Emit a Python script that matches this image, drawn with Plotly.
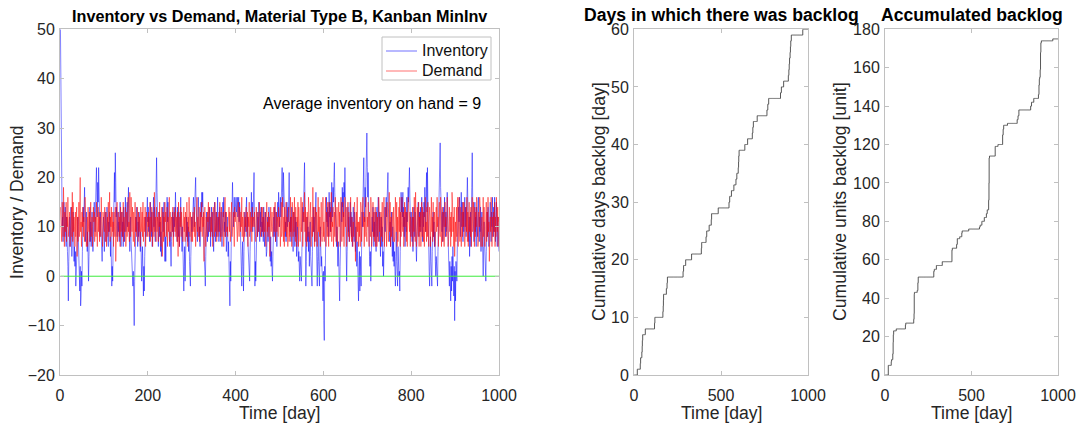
import numpy as np
import plotly.graph_objects as go

W, H = 1079, 426
FONT = "Liberation Sans, Arial, Helvetica, sans-serif"

# ---------------- data ----------------
inventory = [
    50,35,24,14,10,12,7,13,15,11,8,14,9,6,12,10,5,2,-5,3,
    8,12,6,10,14,9,4,7,11,13,8,3,6,2,5,-2,1,-1,4,9,
    12,7,3,1,-3,2,-6,-4,1,-2,5,9,14,11,16,18,12,7,10,13,
    8,5,9,2,-1,4,10,14,7,11,6,9,13,10,5,8,12,15,11,9,
    14,18,22,17,12,19,15,22,16,11,8,13,9,6,4,3,7,10,12,8,
    5,9,13,11,7,10,14,12,8,6,11,9,13,7,4,8,3,-2,2,-1,
    6,12,18,21,15,25,19,12,14,8,10,13,9,11,7,12,15,10,6,9,
    13,8,11,6,14,10,7,12,16,9,13,11,15,10,14,18,12,8,5,9,
    12,7,4,6,2,-2,1,-3,-10,-1,3,8,12,9,14,10,6,11,8,13,
    7,10,5,9,3,-1,2,6,1,-4,2,-3,4,9,12,8,13,10,16,11,
    14,9,12,7,10,15,11,8,13,6,9,12,16,10,14,11,7,13,18,24,
    17,10,12,6,9,13,8,11,5,9,4,7,11,14,9,12,15,10,3,8,
    3,9,13,16,11,15,12,8,10,6,9,4,2,7,11,13,9,12,8,14,
    10,12,17,13,9,11,7,14,10,8,13,6,9,12,16,11,8,5,10,7,
    3,-3,2,6,-1,4,9,12,8,11,7,10,5,9,3,1,-2,4,8,12,
    9,14,11,16,13,10,15,18,20,14,9,12,7,11,16,13,8,10,6,12,
    15,12,17,14,17,11,8,5,3,1,-2,4,9,13,10,7,12,8,11,14,
    9,12,6,10,14,11,8,13,9,5,11,15,12,7,10,13,8,11,16,9,
    12,7,10,14,8,11,13,9,6,10,15,12,16,9,11,8,13,10,5,9,
    12,8,4,7,2,1,-6,3,-1,6,11,16,19,14,10,13,16,12,15,14,
    16,13,15,16,12,14,16,11,15,13,9,6,3,-2,4,7,2,-3,5,10,
    13,9,14,11,16,8,12,7,4,2,1,-1,5,10,13,17,12,15,9,16,
    18,21,11,-2,3,-1,6,10,13,8,12,9,15,11,7,13,10,14,8,11,
    9,12,7,14,10,6,11,13,8,4,5,9,12,7,10,14,11,6,3,8,
    2,5,1,-1,4,9,12,8,14,10,7,13,11,6,9,15,12,17,14,10,
    13,16,12,18,15,22,17,14,21,16,10,13,8,11,7,12,15,10,14,11,
    17,21,13,9,12,7,10,14,8,11,5,9,13,10,6,12,8,11,4,7,
    10,6,3,5,2,-1,4,1,3,-1,5,9,14,11,17,19,23,16,6,-2,
    3,8,12,7,10,5,9,2,6,11,4,1,3,-2,5,10,14,9,12,7,
    11,15,17,8,2,-2,4,9,3,1,-2,5,10,6,2,4,1,0,-5,1,
    -9,-13,2,-1,6,12,16,11,14,10,13,8,17,12,15,9,14,11,19,16,
    12,18,15,20,23,17,13,9,11,6,10,4,2,7,1,3,-5,2,8,12,
    15,11,18,14,17,12,19,16,22,13,8,4,-1,5,10,14,9,12,7,11,
    15,10,13,8,12,6,9,14,11,7,13,9,5,10,6,2,7,3,1,-5,
    2,5,-3,4,1,-2,8,13,10,17,21,24,15,11,18,14,20,25,29,22,
    16,21,12,8,4,2,5,-1,3,7,12,9,14,10,6,11,8,13,9,5,
    10,14,8,12,16,11,7,13,9,4,8,12,6,10,2,5,0,7,11,14,
    9,13,16,12,18,15,21,14,10,12,7,11,6,9,13,8,4,10,3,7,
    2,5,1,-2,4,9,3,1,-2,6,2,0,1,-3,5,11,17,13,16,12,
    17,10,14,8,12,6,10,13,9,16,11,14,18,15,20,22,16,12,8,13,
    10,7,12,5,9,14,11,8,13,6,10,3,7,12,9,15,11,8,13,10,
    14,9,12,16,11,7,13,10,15,12,18,14,9,17,21,13,22,15,6,3,
    1,-2,4,8,3,0,-2,5,10,13,8,11,6,9,3,0,4,1,2,-2,
    5,11,16,20,22,27,18,12,15,9,13,7,11,14,10,16,12,8,13,9,
    12,17,14,8,4,1,-2,3,0,-5,2,-3,4,-1,6,3,-4,2,-9,1,
    -5,3,0,-1,6,12,9,14,11,16,13,8,12,17,10,15,11,7,13,9,
    12,16,10,14,8,13,17,20,15,11,7,12,4,9,13,6,11,18,25,16,
    10,13,7,11,15,9,12,6,14,10,8,13,16,11,7,12,9,14,5,10,
    13,8,4,0,6,11,7,2,0,-1,5,9,13,8,14,10,6,12,9,15,
    11,7,13,10,16,12,8,14,9,16,13,7,11,15,10,6,12,9,8,5,
]

demand = [
    14,9,12,7,15,11,8,18,10,6,13,9,11,15,7,12,10,16,8,11,
    9,13,6,12,10,14,8,17,7,15,9,12,10,6,13,8,11,14,4,12,
    7,10,15,8,12,20,9,11,6,13,10,14,8,12,9,7,16,10,13,6,
    8,12,6,14,10,9,13,7,11,15,8,10,12,6,9,14,11,13,7,10,
    12,8,15,10,6,11,14,9,13,7,12,10,8,16,11,9,6,13,10,12,
    9,14,7,11,13,6,10,12,8,15,9,11,17,7,12,10,14,8,13,9,
    11,6,13,10,8,14,3,12,9,15,7,11,10,13,8,12,6,14,9,11,
    13,8,10,15,7,12,9,11,14,6,10,13,8,12,16,9,11,7,17,10,
    8,16,12,9,14,10,7,13,11,6,15,9,12,8,10,14,11,7,13,9,
    12,10,6,14,9,11,13,8,15,7,10,12,9,14,6,11,13,10,8,12,
    10,13,8,11,15,7,12,9,14,10,6,13,11,8,17,9,12,10,7,14,
    9,12,11,7,13,10,15,8,12,6,11,14,4,10,13,7,12,8,15,11,
    13,8,10,14,6,12,9,11,16,7,13,10,8,12,11,9,14,6,10,13,
    11,9,14,8,12,10,7,13,4,15,11,6,12,10,14,8,13,9,11,7,
    10,14,9,12,7,13,11,8,15,10,6,12,9,16,11,8,13,10,7,12,
    12,7,13,10,9,14,8,11,6,13,10,16,9,12,8,11,14,7,10,13,
    9,11,15,8,12,10,13,3,11,14,9,6,12,10,8,13,11,15,9,12,
    14,10,8,12,9,13,11,6,14,10,12,8,15,9,11,13,7,12,10,8,
    11,13,9,15,10,7,12,14,8,11,9,13,6,12,10,16,8,11,13,9,
    10,8,12,11,14,9,13,7,10,12,15,8,11,9,13,10,6,14,11,12,
    13,9,11,7,12,15,10,8,14,11,9,13,10,16,8,12,11,7,13,10,
    8,12,10,14,9,11,13,6,12,10,15,8,11,13,9,12,7,14,10,11,
    12,10,13,9,11,7,14,10,12,8,13,11,9,15,10,12,8,11,14,9,
    10,14,8,12,11,9,13,10,6,12,15,9,11,8,13,10,12,4,11,14,
    9,11,13,10,8,12,14,9,11,15,7,10,13,9,12,11,8,14,10,12,
    11,6,12,15,8,9,16,11,7,12,6,14,9,11,15,8,12,10,6,13,
    14,7,11,8,16,9,12,6,15,11,8,13,9,16,10,7,14,11,6,12,
    10,15,6,14,11,13,7,10,16,9,11,15,6,8,13,11,17,9,14,7,
    12,6,13,10,8,16,14,7,9,10,15,6,11,12,8,18,9,11,14,6,
    9,14,7,13,12,6,10,16,9,14,8,12,6,11,15,9,7,12,16,8,
    11,7,12,9,16,6,13,11,8,15,10,6,15,11,8,13,9,17,7,11,
    10,14,6,11,13,8,16,12,7,9,14,6,12,8,15,10,13,6,11,16,
    12,7,11,15,8,13,6,9,16,10,11,14,6,10,12,15,8,13,7,9,
    9,16,13,7,12,9,6,11,8,14,15,10,3,11,13,7,16,9,11,6,
    11,8,12,6,15,14,7,12,9,16,10,13,6,12,8,11,16,9,7,12,
    10,15,9,6,13,11,8,16,14,6,11,9,15,8,13,7,11,14,6,12,
    13,6,12,10,7,16,14,9,12,6,13,8,11,15,7,12,9,16,6,10,
    8,14,11,6,15,10,13,7,12,17,9,15,6,12,8,11,13,9,7,14,
    12,7,8,16,11,9,15,6,12,7,11,14,9,16,6,13,8,11,16,10,
    9,13,6,8,15,10,14,9,7,13,6,12,16,15,11,9,13,6,12,10,
    11,8,14,6,12,9,16,11,7,17,10,6,9,14,11,8,15,6,12,9,
    13,6,9,15,8,14,11,7,13,6,12,16,9,11,7,14,8,15,11,6,
    10,14,12,6,11,16,9,12,7,15,8,11,13,6,7,12,14,9,16,10,
    12,6,11,15,9,8,16,11,6,12,14,7,10,13,6,9,15,10,12,8,
    9,16,10,6,7,11,14,9,12,6,13,8,17,15,9,12,6,14,4,11,
    11,7,14,8,12,16,6,11,16,10,7,12,14,6,11,13,8,15,10,15,
    13,6,11,10,14,9,16,7,13,6,10,15,9,12,8,14,6,10,16,9,
    10,15,9,6,14,8,13,10,16,15,9,6,7,13,10,16,14,8,6,10,
    12,6,13,16,8,14,10,6,9,11,15,7,13,8,16,9,11,3,10,12,
    9,16,14,6,12,8,13,11,9,15,6,12,8,16,13,9,14,6,12,11,
]

zero_level = 0
left_xticks = [0, 200, 400, 600, 800, 1000]
left_yticks = [-20, -10, 0, 10, 20, 30, 40, 50]
right_xticks = [0, 500, 1000]
mid_yticks = [0, 10, 20, 30, 40, 50, 60]
right_yticks = [0, 20, 40, 60, 80, 100, 120, 140, 160, 180]
series_names = ["Inventory", "Demand"]
series_colors = ["rgb(0,0,255)", "rgb(255,0,0)"]
legend_sample_colors = ["rgb(160,160,255)", "rgb(255,160,160)"]
avg_inventory_text = "Average inventory on hand = 9"

# ---------------- derived series ----------------
inv = np.array(inventory)
days = np.arange(1, len(inv) + 1)
dem_days = np.arange(1, len(demand) + 1)
cum_backlog_days = np.cumsum(inv < 0)
cum_backlog_units = np.cumsum(np.clip(-inv, 0, None))

def px(x):
    return x / W

def py(y):
    return 1 - y / H

fig = go.Figure()
fig.add_trace(go.Scatter(x=days, y=inventory, mode="lines", name=series_names[0],
                         line=dict(color=series_colors[0], width=0.5),
                         xaxis="x", yaxis="y", showlegend=False))
fig.add_trace(go.Scatter(x=dem_days, y=demand, mode="lines", name=series_names[1],
                         line=dict(color=series_colors[1], width=0.5),
                         xaxis="x", yaxis="y", showlegend=False))
fig.add_trace(go.Scatter(x=days, y=[zero_level] * len(days), mode="lines",
                         showlegend=False, line=dict(color="rgb(60,235,60)", width=1),
                         xaxis="x", yaxis="y", hoverinfo="skip"))
fig.add_trace(go.Scatter(x=days, y=cum_backlog_days, mode="lines", line_shape="hv",
                         showlegend=False, line=dict(color="#444444", width=0.9),
                         xaxis="x2", yaxis="y2"))
fig.add_trace(go.Scatter(x=days, y=cum_backlog_units, mode="lines", line_shape="hv",
                         showlegend=False, line=dict(color="#444444", width=0.9),
                         xaxis="x3", yaxis="y3"))

AX = dict(showline=True, linecolor="#c0c0c0", linewidth=1, mirror="ticks",
          ticks="inside", ticklen=4, tickcolor="#c0c0c0", tickwidth=1,
          showgrid=False, zeroline=False, automargin=False,
          tickfont=dict(size=16, color="#262626", family=FONT))

XSO, YSO = 6, 1
ydom = [py(375), py(29.3)]
fig.update_layout(
    width=W, height=H, margin=dict(l=0, r=0, t=0, b=0, autoexpand=False),
    paper_bgcolor="white", plot_bgcolor="white", showlegend=False,
    font=dict(family=FONT, color="#262626"),
    xaxis=dict(AX, domain=[px(60), px(499)], range=[0, 1000], tickvals=left_xticks,
               anchor="y", ticklabelstandoff=XSO),
    yaxis=dict(AX, domain=ydom, range=[-20, 50], tickvals=left_yticks, anchor="x",
               ticklabelstandoff=YSO),
    xaxis2=dict(AX, domain=[px(634), px(808)], range=[0, 1000], tickvals=right_xticks,
                anchor="y2", ticklabelstandoff=XSO),
    yaxis2=dict(AX, domain=ydom, range=[0, 60], tickvals=mid_yticks, anchor="x2",
                ticklabelstandoff=YSO),
    xaxis3=dict(AX, domain=[px(885), px(1058)], range=[0, 1000], tickvals=right_xticks,
                anchor="y3", ticklabelstandoff=XSO),
    yaxis3=dict(AX, domain=ydom, range=[0, 180], tickvals=right_yticks, anchor="x3",
                ticklabelstandoff=YSO),
)

# legend box (drawn as decoration, matching the reference's compact legend)
fig.add_shape(type="rect", xref="paper", yref="paper",
              x0=px(382), x1=px(491), y0=py(80), y1=py(37),
              line=dict(color="#c0c0c0", width=1), fillcolor="white", layer="above")
for i, (nm, col) in enumerate(zip(series_names, legend_sample_colors)):
    yy = 51 + 20 * i
    fig.add_shape(type="line", xref="paper", yref="paper",
                  x0=px(386), x1=px(417), y0=py(yy), y1=py(yy),
                  line=dict(color=col, width=1.5), layer="above")
    fig.add_annotation(text=nm, x=px(420), y=py(yy), xref="paper", yref="paper",
                       xanchor="left", yanchor="middle", showarrow=False,
                       font=dict(size=16, color="#111111", family=FONT))

def ann(text, x, y, size, bold=False, angle=0, xanchor="center", color="#262626"):
    fig.add_annotation(text=f"<b>{text}</b>" if bold else text,
                       x=px(x), y=py(y), xref="paper", yref="paper",
                       xanchor=xanchor, yanchor="middle", showarrow=False,
                       textangle=angle,
                       font=dict(size=size, color=color, family=FONT))

ann("Inventory vs Demand, Material Type B, Kanban MinInv", 279.5, 16, 16.2, bold=True, color="black")
ann("Days in which there was backlog", 721, 15, 17.6, bold=True, color="black")
ann("Accumulated backlog", 971.5, 15, 17.6, bold=True, color="black")
ann("Time [day]", 279.5, 413, 17.6)
ann("Time [day]", 721, 413, 17.6)
ann("Time [day]", 971.5, 413, 17.6)
ann("Inventory / Demand", 17, 202, 17.6, angle=-90)
ann("Cumulative days backlog [day]", 599, 202, 17.6, angle=-90)
ann("Cumulative units backlog [unit]", 840, 202, 17.6, angle=-90)
ann(avg_inventory_text, 483, 104, 16, xanchor="right", color="black")

fig.write_html("out.html", config={"displayModeBar": False},
               post_script="document.body.style.margin='0';document.body.style.padding='0';")
